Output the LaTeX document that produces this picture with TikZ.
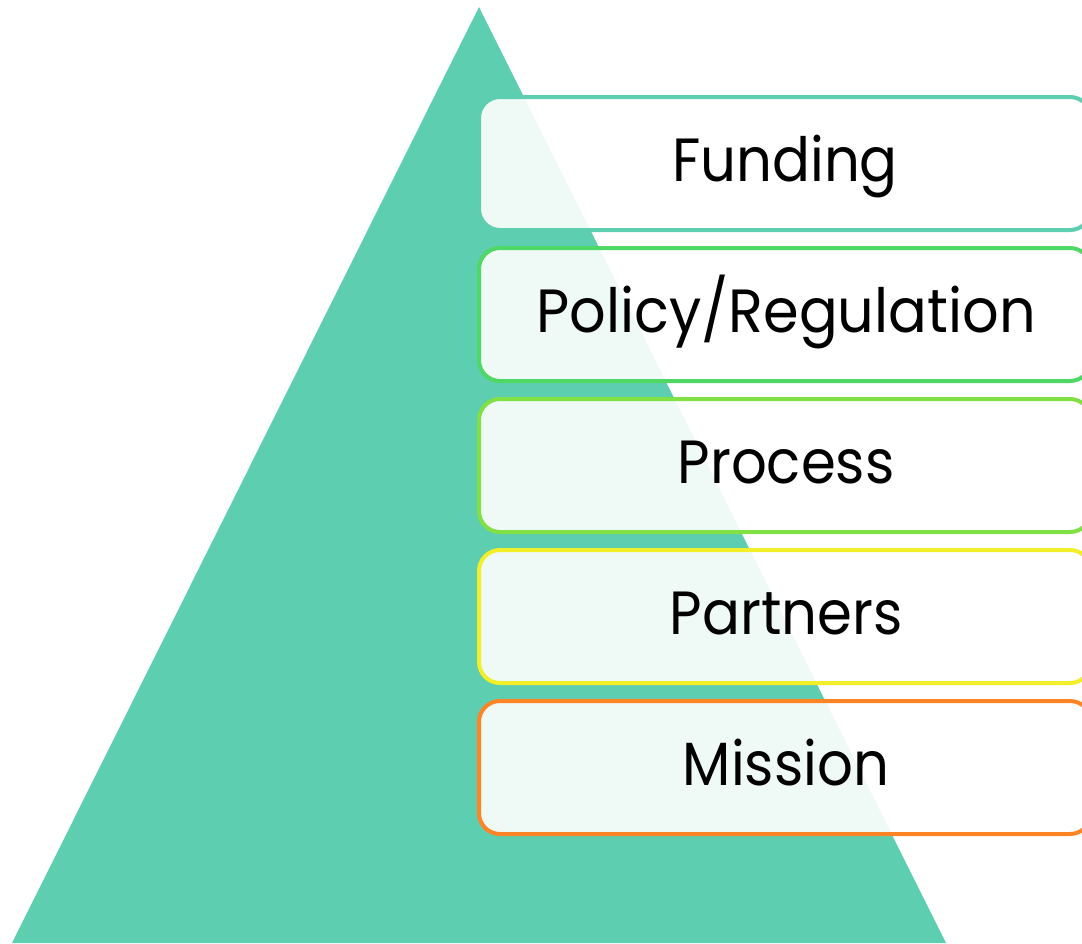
\documentclass[tikz,border=0pt]{standalone}
\usepackage{fontspec}
\setmainfont{Poppins}
\usetikzlibrary{positioning}
\definecolor{teal1}{HTML}{5DCEB0}
\definecolor{green1}{HTML}{50D866}
\definecolor{lime1}{HTML}{80E044}
\definecolor{yellow1}{HTML}{F2EF2A}
\definecolor{orange1}{HTML}{FF8426}
\tikzset{
  layer/.style={draw=#1, line width=4pt, fill=white, fill opacity=0.9, draw opacity=1,
    rounded corners=21pt, minimum width=612pt, minimum height=133pt, inner sep=0pt},
  lbl/.style={anchor=base, inner sep=0pt, font=\fontsize{61}{70}\selectfont, text=black}
}
\begin{document}
\begin{tikzpicture}[x=1pt,y=-1pt]
\useasboundingbox (0,0) rectangle (1082,943);
\clip (0,0) rectangle (1082,943);
\fill[teal1] (479,7) -- (946,943) -- (12,943) -- cycle;
\node[layer=teal1]   (b1) at (785,163.5) {};
\node[layer=green1]  (b2) at (785,314.5) {};
\node[layer=lime1]   (b3) at (785,465.5) {};
\node[layer=yellow1] (b4) at (785,616.5) {};
\node[layer=orange1] (b5) at (785,767.5) {};
\node[lbl] (t1) at (785,181) {\scalebox{0.92}[1]{Funding}};
\node[lbl] (t2) at (786,332) {\scalebox{0.94}[1]{Policy/Regulation}};
\node[lbl] (t3) at (786,483) {\scalebox{0.92}[1]{Process}};
\node[lbl] (t4) at (786,634) {\scalebox{0.92}[1]{Partners}};
\node[lbl] (t5) at (786,785) {\scalebox{0.92}[1]{Mission}};
\end{tikzpicture}
\end{document}
